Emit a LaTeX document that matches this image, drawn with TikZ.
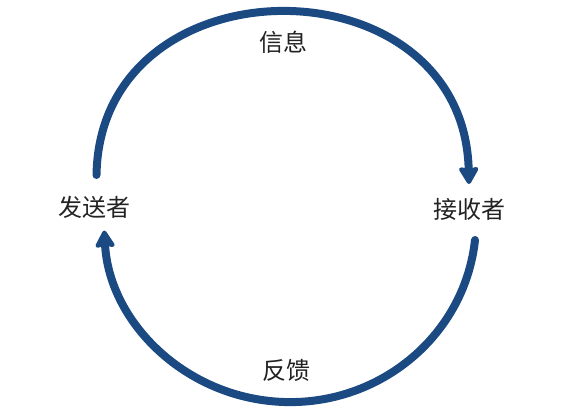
\documentclass[tikz,border=0pt]{standalone}
\usepackage{fontspec}
\setmainfont{Noto Sans CJK SC}
\usetikzlibrary{arrows.meta}
\definecolor{arcblue}{HTML}{1B4A82}
\definecolor{txtgray}{HTML}{222222}
\begin{document}
\begin{tikzpicture}[x=1bp,y=1bp,
  lbl/.style={text=txtgray, font=\fontsize{24bp}{28bp}\selectfont, inner sep=0pt},
  flow/.style={draw=arcblue, line width=8bp, line cap=round,
    -{Stealth[length=20bp,width=23bp,inset=3bp,round]}}]
\useasboundingbox (0,0) rectangle (572,416);
\node[lbl] (msg) at (283.5,373.5) {信息};
\node[lbl] (fb) at (286.5,46) {反馈};
\node[lbl] (snd) at (94,208.5) {发送者};
\node[lbl] (rcv) at (469,207) {接收者};
\coordinate (s1) at (96.5,241);
\coordinate (r1) at (469,232);
\coordinate (r2) at (475,176);
\draw[flow] (s1) .. controls (100,459) and (464,459) .. (r1);
\draw[flow] (r2) arc[start angle=-6, end angle=-177, x radius=186, y radius=181] coordinate (s2);
\end{tikzpicture}
\end{document}
